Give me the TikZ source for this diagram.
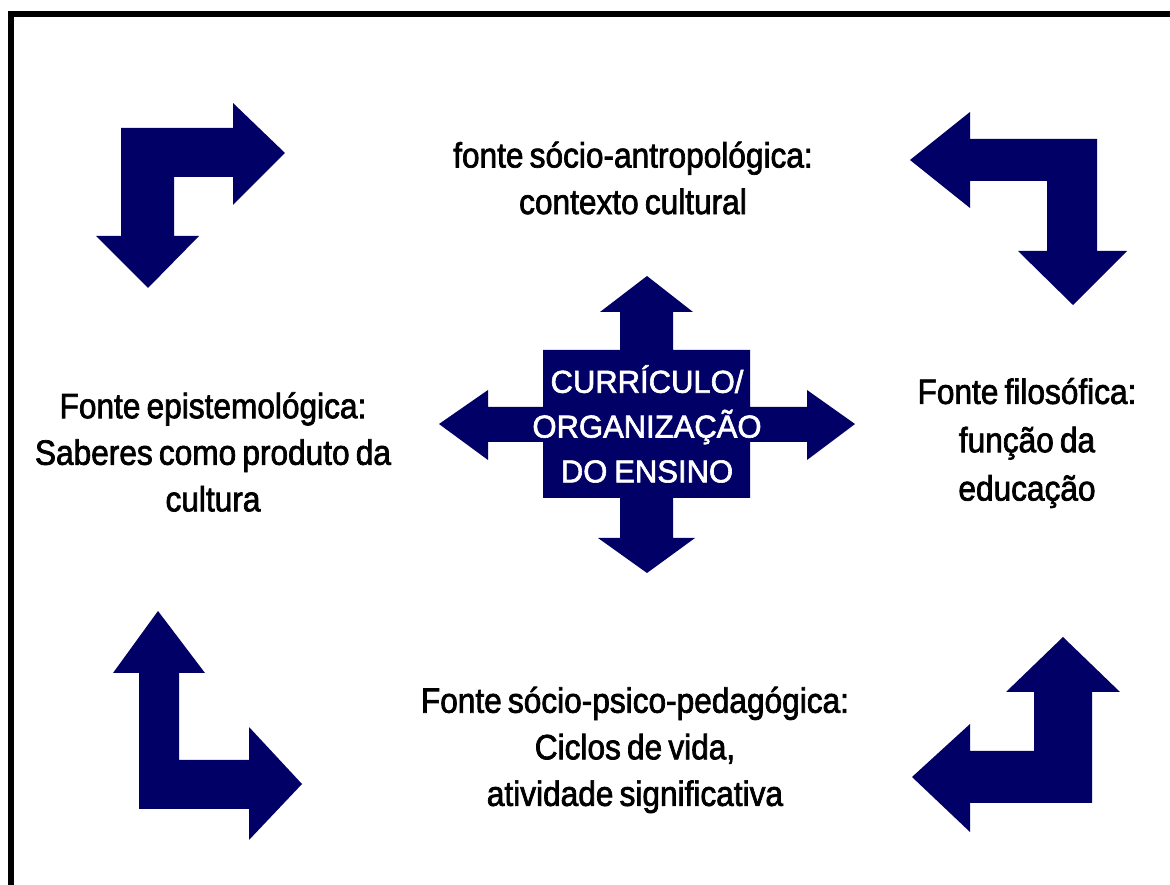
\documentclass[tikz,border=0pt]{standalone}
\usepackage{fontspec}
\setmainfont{Liberation Sans}[FakeStretch=0.9, FakeBold=2, WordSpace=0.7]
\newfontfamily\centrofont{Liberation Sans}[FakeStretch=0.98, FakeBold=2, WordSpace=0.8]
\usepackage{xcolor}
\usepackage{tikz}
\usetikzlibrary{positioning}
\definecolor{navy}{RGB}{0,0,102}

\begin{document}
\begin{tikzpicture}[
    x=0.2mm, y=-0.2mm,
    seta/.style={fill=navy, draw=none},
    fonte/.style={align=center, text=black, font=\fontsize{20pt}{26.5pt}\selectfont, inner sep=0pt},
    centro/.style={align=center, text=white, font=\centrofont\fontsize{18pt}{25.5pt}\selectfont, inner sep=0pt},
    moldura/.style={draw=black, line width=1.2mm}
]
\useasboundingbox (0,0) rectangle (1170,885);
\draw[moldura] (11,900) -- (11,14) -- (1190,14);

% bent arrows in the corners
\fill[seta] (148,288) -- (199,236) -- (174,236) -- (174,177) -- (233,177) -- (233,205) -- (285,153)
    -- (233,103) -- (233,128) -- (121,128) -- (121,236) -- (96,236) -- cycle;
\fill[seta] (910,160) -- (970,112) -- (970,139) -- (1097,139) -- (1097,251) -- (1127,251) -- (1073,305)
    -- (1018,251) -- (1047,251) -- (1047,181) -- (970,181) -- (970,208) -- cycle;
\fill[seta] (158,611) -- (205,673) -- (179,673) -- (179,760) -- (249,760) -- (249,727) -- (302,784)
    -- (249,840) -- (249,809) -- (139,809) -- (139,673) -- (113,673) -- cycle;
\fill[seta] (1063,637) -- (1120,692) -- (1092,692) -- (1092,803) -- (970,803) -- (970,832) -- (912,777)
    -- (970,724) -- (970,751) -- (1034,751) -- (1034,692) -- (1006,692) -- cycle;

% central cross
\fill[seta] (647,276) -- (693,312) -- (673,312) -- (673,350) -- (750,350) -- (750,407) -- (807,407)
    -- (807,390) -- (855,424) -- (807,460) -- (807,442) -- (750,442) -- (750,498) -- (673,498)
    -- (673,538) -- (695,538) -- (647,573) -- (598,538) -- (620,538) -- (620,498) -- (543,498)
    -- (543,442) -- (488,442) -- (488,460) -- (439,424) -- (488,390) -- (488,407) -- (543,407)
    -- (543,350) -- (620,350) -- (620,312) -- (600,312) -- cycle;

\node[centro] (curriculo) at (647,424) {CURRÍCULO/\\ORGANIZAÇÃO\\DO ENSINO};

\node[fonte] (antropologica) at (633,178) {fonte sócio-antropológica:\\contexto cultural};
\node[fonte] (epistemologica) at (213,452) {Fonte epistemológica:\\Saberes como produto da\\cultura};
\node[fonte, font=\fontsize{20pt}{27.5pt}\selectfont] (filosofica) at (1027,443) {Fonte filosófica:\\função da\\educação};
\node[fonte] (pedagogica) at (635,750) {Fonte sócio-psico-pedagógica:\\Ciclos de vida,\\atividade significativa};
\end{tikzpicture}
\end{document}
